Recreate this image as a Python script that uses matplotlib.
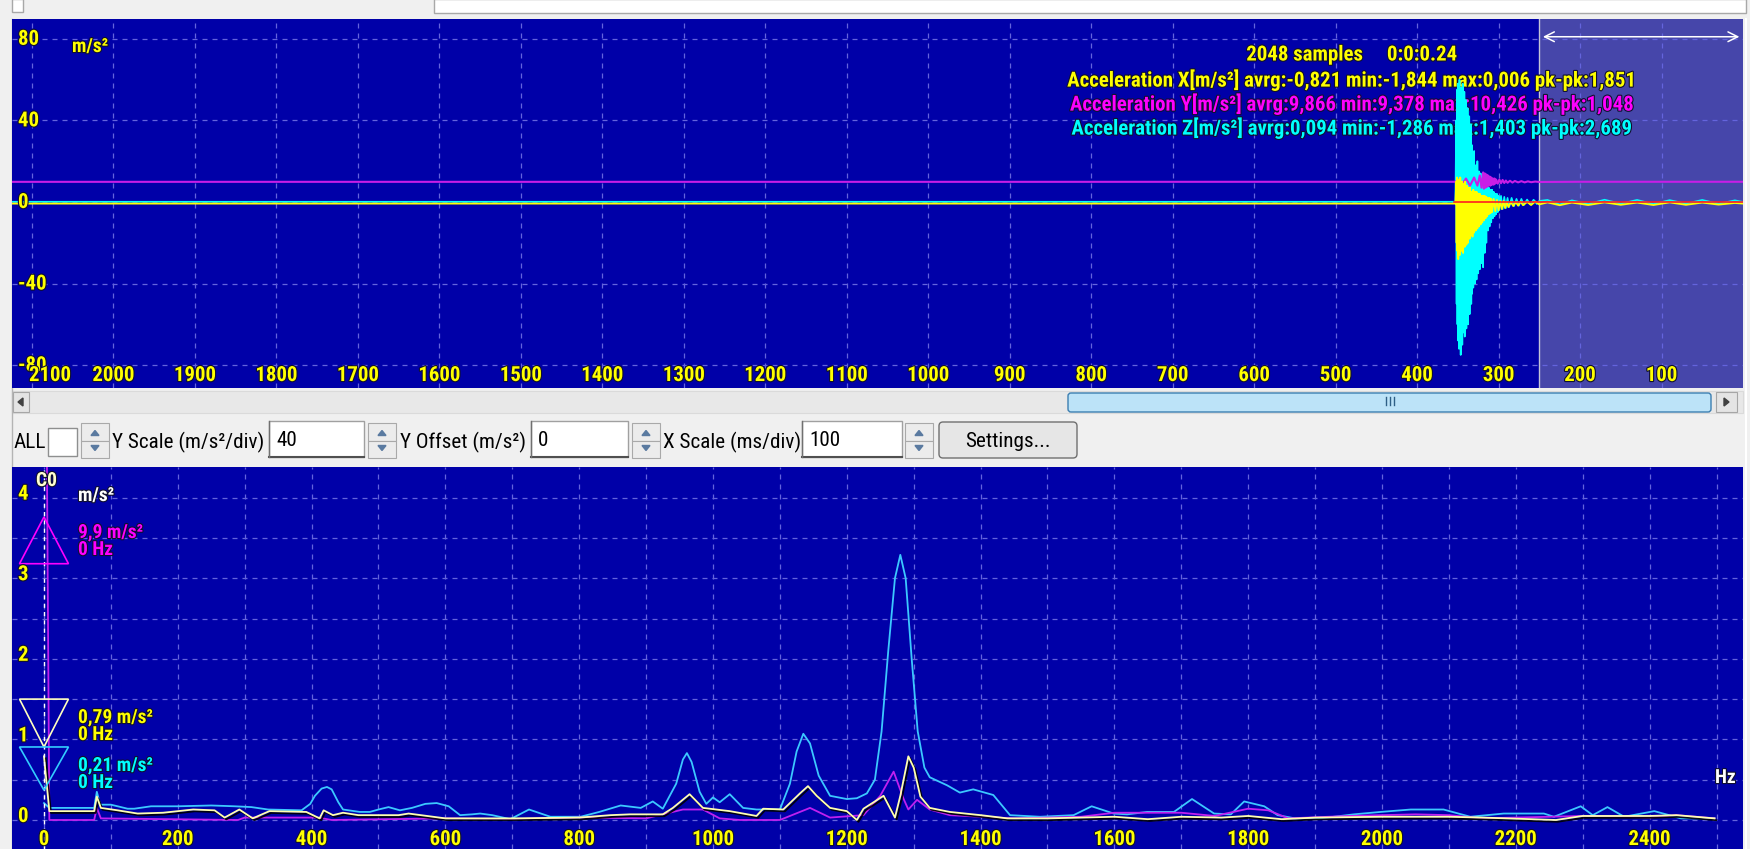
import matplotlib
matplotlib.use("Agg")
import matplotlib.pyplot as plt
import matplotlib.patheffects as pe
from matplotlib.patches import Rectangle, Polygon, FancyBboxPatch
from matplotlib.transforms import blended_transform_factory, offset_copy
from matplotlib import font_manager as fm

# ---------------- data ----------------
# time domain (ms, reversed axis) -- acceleration X (yellow)
time_x = [2124, 1500, 900, 353, 352, 351.5, 351, 350.5, 350, 349.5, 349, 348.5, 348, 347.5, 347,
          346.5, 346, 345.5, 345, 344.5, 344, 343.5, 343, 342.5, 342, 341.5, 341, 340.5, 340,
          339.5, 339, 338.5, 338, 337.5, 337, 336.5, 336, 335.5, 335, 334, 333, 332, 331, 330,
          329, 328, 327, 326, 325, 324, 323, 322, 321, 320, 319, 318, 317, 316, 315, 314, 313,
          312, 311, 310, 309, 308, 306, 304, 302, 300, 298, 296, 294, 292, 290, 288, 285, 282,
          279, 276, 273, 270, 265, 260, 255, 250, 240, 225, 210, 190, 170, 150, 130, 110, 90,
          70, 50, 30, 10, 0]
acc_x = [-0.8, -0.8, -0.8, -0.8, 10, -20, 12, -24, 9, -28, 11, -22, 8, -26, 12,
         -20, 9, -24, 10, -22, 7, -25, 9, -20, 8, -22, 10, -18, 7,
         -21, 8, -19, 6, -20, 7, -17, 6, -18, 7, -16, 5, -17, 6, -15,
         5, -14, 5, -13, 4, -12, 4, -11, 3, -10, 3, -9, 3, -8, 2.5, -7, 2,
         -6, 2, -5.5, 1.5, -5, 1.5, -4.5, 1, -4, 0.5, -3.5, 0.5, -3, 0, -2.5, 0, -2,
         0, -1.8, 0.2, -1.6, 0, -1.5, 0.2, -1.2, -0.2, -1.6, -0.3, -1.5, -0.2, -1.4, -0.3, -1.5, -0.2,
         -1.4, -0.3, -1.3, -0.5, -0.8]

# acceleration Y (magenta)
time_y = [2124, 1500, 900, 353, 350, 345, 340, 335, 330, 326, 323, 321, 319, 318, 317, 316, 315,
          314, 313, 312, 311, 310, 309, 308, 307, 306, 305, 304, 303, 301, 299, 297, 295, 293,
          291, 289, 286, 283, 280, 276, 272, 268, 264, 260, 255, 250, 200, 100, 0]
acc_y = [9.87, 9.87, 9.87, 9.9, 11, 8.5, 11.5, 8, 12, 8, 13, 7, 14.5, 6.5, 14, 7, 13.5,
         7.5, 13, 8, 12.5, 8, 12, 8.5, 11.5, 8.5, 11.5, 9, 11, 9, 11, 9.2, 10.8, 9.3,
         10.5, 9.4, 10.4, 9.5, 10.3, 9.6, 10.2, 9.6, 10.1, 9.7, 10.0, 9.8, 9.9, 9.9, 9.9]

# acceleration Z (cyan)
time_z = [2124, 1500, 900, 353, 352, 351.5, 351, 350.5, 350, 349.5, 349, 348.5, 348, 347.5, 347,
          346.5, 346, 345.5, 345, 344.5, 344, 343.5, 343, 342.5, 342, 341.5, 341, 340.5, 340,
          339.5, 339, 338.5, 338, 337.5, 337, 336.5, 336, 335.5, 335, 334.5, 334, 333.5, 333,
          332.5, 332, 331, 330, 329, 328, 327, 326, 325, 324, 323, 322, 321, 320, 319, 318, 317,
          316, 315, 314, 313, 312, 311, 310, 309, 308, 307, 306, 305, 304, 303, 302, 301, 300,
          299, 297, 295, 293, 291, 289, 287, 284, 281, 278, 275, 272, 269, 265, 261, 257, 253,
          250, 240, 225, 210, 190, 170, 150, 130, 110, 90, 70, 50, 30, 10, 0]
acc_z = [0.1, 0.1, 0.1, 0.1, 40, -50, 55, -60, 58, -68, 52, -72, 60, -66, 48,
         -75, 56, -62, 50, -70, 58, -64, 45, -58, 54, -66, 42, -55, 50,
         -62, 40, -58, 46, -60, 35, -52, 42, -55, 30, -48, 38, -50, 28,
         -45, 22, -42, 25, -40, 18, -38, 20, -35, 15, -33, 14, -30, 12, -32, 10, -25,
         9, -20, 8, -14, 7, -12, 6, -10, 6, -8, 5, -7, 4, -6, 4, -5, 3,
         -4, 3, -3.5, 2.5, -3, 2, -2.5, 2, -2, 1.5, -1.8, 1.5, -1.5, 1.2, -1.3, 1.1, -1.0,
         0.5, 1.0, -1.2, 0.8, -1.0, 1.1, -0.8, 1.0, -1.0, 0.9, -0.8, 1.0, -0.9, 0.8, 0.0]

zero_ref_t = [355, 0]
zero_ref_v = [0.0, 0.0]

# spectrum (Hz, m/s^2)
freq_z = [0, 8, 40, 75, 79, 84, 100, 125, 135, 160, 200, 250, 285, 310, 335, 385, 398, 405, 415,
          423, 430, 440, 447, 472, 487, 500, 515, 532, 550, 570, 587, 605, 622, 640, 652, 670,
          697, 725, 757, 802, 830, 862, 892, 910, 925, 945, 955, 961, 968, 980, 990, 1000, 1010,
          1025, 1045, 1065, 1100, 1115, 1125, 1135, 1145, 1158, 1175, 1200, 1215, 1230, 1242,
          1252, 1262, 1272, 1280, 1288, 1297, 1306, 1316, 1324, 1350, 1369, 1389, 1419, 1444,
          1489, 1539, 1566, 1599, 1619, 1649, 1689, 1716, 1749, 1774, 1794, 1824, 1844, 1870,
          1908, 1958, 1998, 2043, 2092, 2132, 2182, 2242, 2257, 2297, 2315, 2337, 2362, 2407,
          2447, 2497]
amp_z = [0.21, 0.15, 0.15, 0.15, 0.35, 0.19, 0.19, 0.14, 0.14, 0.17, 0.17, 0.18, 0.17, 0.16,
         0.13, 0.12, 0.2, 0.3, 0.39, 0.41, 0.38, 0.22, 0.13, 0.1, 0.1, 0.13, 0.16, 0.12, 0.15,
         0.2, 0.21, 0.17, 0.06, 0.07, 0.08, 0.06, 0.01, 0.13, 0.04, 0.04, 0.1, 0.18, 0.15, 0.23,
         0.14, 0.45, 0.75, 0.83, 0.72, 0.35, 0.2, 0.28, 0.22, 0.32, 0.15, 0.13, 0.13, 0.45,
         0.85, 1.07, 0.95, 0.55, 0.3, 0.26, 0.27, 0.33, 0.5, 1.1, 2.1, 3.0, 3.29, 3.0, 2.0, 1.1,
         0.65, 0.53, 0.43, 0.34, 0.38, 0.31, 0.06, 0.04, 0.06, 0.17, 0.08, 0.07, 0.1, 0.1, 0.26,
         0.08, 0.07, 0.23, 0.17, 0.06, 0.02, 0.02, 0.07, 0.1, 0.13, 0.13, 0.04, 0.08, 0.08, 0.04,
         0.17, 0.06, 0.16, 0.04, 0.11, 0.02, 0.02]

freq_x = [0, 8, 75, 79, 85, 110, 140, 178, 223, 255, 270, 292, 312, 337, 392, 412, 418, 432, 447,
          470, 530, 545, 600, 700, 800, 847, 876, 925, 940, 965, 985, 1025, 1065, 1075, 1105,
          1130, 1142, 1155, 1175, 1200, 1215, 1225, 1255, 1272, 1280, 1292, 1300, 1310, 1324,
          1354, 1400, 1440, 1500, 1600, 1650, 1700, 1760, 1800, 1850, 1900, 2000, 2100, 2150,
          2260, 2300, 2400, 2440, 2497]
amp_x = [0.79, 0.11, 0.11, 0.29, 0.15, 0.12, 0.08, 0.09, 0.13, 0.12, 0.03, 0.13, 0.02, 0.11,
         0.1, 0.02, 0.12, 0.06, 0.09, 0.06, 0.06, 0.08, 0.02, 0.02, 0.03, 0.06, 0.07, 0.07, 0.15,
         0.32, 0.15, 0.11, 0.05, 0.14, 0.13, 0.33, 0.42, 0.3, 0.15, 0.11, 0.0, 0.14, 0.3, 0.03,
         0.3, 0.79, 0.65, 0.29, 0.15, 0.1, 0.06, 0.02, 0.02, 0.04, 0.01, 0.04, 0.03, 0.05, 0.01,
         0.03, 0.04, 0.04, 0.03, 0.0, 0.05, 0.05, 0.06, 0.02]

freq_y = [0, 8, 75, 79, 85, 290, 300, 410, 430, 600, 700, 800, 900, 955, 985, 1010, 1040, 1100,
          1145, 1175, 1225, 1250, 1270, 1285, 1292, 1305, 1324, 1354, 1400, 1450, 1550, 1600,
          1700, 1750, 1800, 1830, 1860, 1950, 2050, 2100, 2150, 2300, 2400, 2440, 2497]
amp_y = [9.9, 0.0, 0.0, 0.15, 0.02, 0.0, 0.03, 0.03, 0.0, 0.02, 0.01, 0.03, 0.02, 0.13, 0.13,
         0.02, 0.0, 0.0, 0.15, 0.03, 0.06, 0.3, 0.6, 0.26, 0.13, 0.25, 0.13, 0.06, 0.04, 0.02,
         0.04, 0.09, 0.09, 0.05, 0.14, 0.12, 0.02, 0.05, 0.07, 0.06, 0.02, 0.05, 0.03, 0.06, 0.02]

top_xticks = [2100, 2000, 1900, 1800, 1700, 1600, 1500, 1400, 1300, 1200, 1100, 1000,
              900, 800, 700, 600, 500, 400, 300, 200, 100]
top_yticks = [80, 40, 0, -40, -80]
bot_xticks = [0, 200, 400, 600, 800, 1000, 1200, 1400, 1600, 1800, 2000, 2200, 2400]
bot_yticks = [0, 1, 2, 3, 4]

info_lines = ["2048 samples     0:0:0.24",
              "Acceleration X[m/s\u00b2] avrg:-0,821 min:-1,844 max:0,006 pk-pk:1,851",
              "Acceleration Y[m/s\u00b2] avrg:9,866 min:9,378 max:10,426 pk-pk:1,048",
              "Acceleration Z[m/s\u00b2] avrg:0,094 min:-1,286 max:1,403 pk-pk:2,689"]
cursor_labels = [("9,9 m/s\u00b2", "0 Hz"), ("0,79 m/s\u00b2", "0 Hz"), ("0,21 m/s\u00b2", "0 Hz")]
# cursor triangles: (apex, base) values
cursor_tri = [(3.76, 3.18), (0.906, 1.5), (0.37, 0.906)]

# ---------------- fonts ----------------
entries = fm.fontManager.ttflist
names = {f.name for f in entries}
FAM, STRETCH = "Liberation Sans", "normal"
for c in ["Liberation Sans Narrow", "Arial Narrow", "Roboto Condensed", "Open Sans Condensed",
          "Noto Sans Condensed", "DejaVu Sans Condensed"]:
    if c in names:
        FAM = c
        break
else:
    for fam in ["Noto Sans", "Open Sans", "Roboto", "DejaVu Sans"]:
        if any(f.name == fam and "condensed" in str(f.stretch) for f in entries):
            FAM, STRETCH = fam, "condensed"
            break
FONT = dict(family=[FAM, "DejaVu Sans"], fontstretch=STRETCH)

BLUE = "#0000A8"
SHADE = "#4646AA"
GRID = "#6464DC"
YEL = "#FFFF00"
MAG = "#FF00FF"
CYA = "#00FFFF"
shadow = [pe.withStroke(linewidth=1.6, foreground="#101030")]

W, H = 1750, 849
fig = plt.figure(figsize=(W / 100, H / 100), dpi=100, facecolor="#F0F0F0")
renderer = fig.canvas.get_renderer()


def fit(sample, target, weight, base=20.0):
    t = fig.text(0, 0, sample, fontsize=base, fontweight=weight, **FONT)
    w = t.get_window_extent(renderer).width
    t.remove()
    return base * target / w


FS_TICK = min(fit("2000", 42, "bold"), 17)
FS_INFO = min(fit(info_lines[1], 580, "bold"), 15)
FS_LAB = min(fit("9,9 m/s\u00b2", 69, "bold"), 14)
FS_UI = min(fit("Y Scale (m/s\u00b2/div)", 152, "normal"), 16)

ui = fig.add_axes([0, 0, 1, 1], zorder=0)
ui.set_xlim(0, W); ui.set_ylim(H, 0); ui.axis("off")


def rect(x0, y0, x1, y1, **kw):
    ui.add_patch(Rectangle((x0, y0), x1 - x0, y1 - y0, **kw))


def px_axes(x0, y0, x1, y1, z):
    return fig.add_axes([x0 / W, 1 - y1 / H, (x1 - x0) / W, (y1 - y0) / H], zorder=z)


# ----- window chrome -----
rect(434, -1, 1746, 13, facecolor="white", edgecolor="#A8A8A8", lw=1)
rect(12, -1, 23, 12, facecolor="white", edgecolor="#A8A8A8", lw=1)
ui.plot([11.5, 11.5], [19, H], color="#B4B4B4", lw=1)
ui.plot([1745.5, 1745.5], [19, H], color="#FFFFFF", lw=1.5)

# scrollbar
rect(12, 391, 1743, 413, facecolor="#E8E8E8", edgecolor="#DADADA", lw=0.8)
rect(13, 392, 29, 412, facecolor="#E4E4E4", edgecolor="#A6A6A6", lw=0.8)
ui.add_patch(Polygon([(23, 398), (23, 406), (18, 402)], closed=True, color="#404040"))
ui.add_patch(FancyBboxPatch((1068, 393), 643, 19, boxstyle="round,pad=0,rounding_size=3",
                            facecolor="#BCE3F8", edgecolor="#3C7FB1", lw=1))
for gx in (1386, 1390, 1394):
    ui.plot([gx, gx], [397, 405], color="#2E5F86", lw=1)
rect(1716, 392, 1737, 412, facecolor="#E4E4E4", edgecolor="#A6A6A6", lw=0.8)
ui.add_patch(Polygon([(1724, 398), (1724, 406), (1729, 402)], closed=True, color="#404040"))


def spin(x0, x1, y0=423, y1=458):
    ym = (y0 + y1) / 2
    for a, b in ((y0, ym), (ym, y1)):
        rect(x0, a, x1, b, facecolor="#ECECEC", edgecolor="#A9A9A9", lw=0.8)
    cx = (x0 + x1) / 2
    ui.add_patch(Polygon([(cx - 4, ym - 5), (cx + 4, ym - 5), (cx, ym - 10)], closed=True, color="#5A7AA0"))
    ui.add_patch(Polygon([(cx - 4, ym + 5), (cx + 4, ym + 5), (cx, ym + 10)], closed=True, color="#5A7AA0"))


ukw = dict(fontsize=FS_UI, va="center", ha="left", color="black", **FONT)


def tbox(x0, x1, txt, y0=421, y1=457):
    rect(x0, y0, x1, y1, facecolor="white", edgecolor="#A0A0A0", lw=1)
    ui.plot([x0, x1], [y1, y1], color="#505050", lw=1.5)
    ui.plot([x0, x0], [y0, y1], color="#707070", lw=1)
    ui.text(x0 + 7, (y0 + y1) / 2 + 1, txt, **ukw)


ui.text(13, 442, "ALL", **ukw)
rect(48, 428, 77, 456, facecolor="white", edgecolor="#8E8F8F", lw=1)
spin(81, 109)
ui.text(112, 442, "Y Scale (m/s\u00b2/div)", **ukw)
tbox(269, 364, "40")
spin(368, 396)
ui.text(400, 442, "Y Offset (m/s\u00b2)", **ukw)
tbox(531, 628, "0")
spin(632, 660)
ui.text(663, 442, "X Scale (ms/div)", **ukw)
tbox(802, 902, "100")
spin(905, 933)
ui.add_patch(FancyBboxPatch((939, 422), 138, 36, boxstyle="round,pad=0,rounding_size=4",
                            facecolor="#E6E6E6", edgecolor="#707070", lw=1))
ui.text(1008, 441, "Settings...", fontsize=FS_UI, va="center", ha="center", color="black", **FONT)

# ----- plot axes -----
ax1 = px_axes(12, 19, 1743, 388, 1)
ax2 = px_axes(12, 467, 1743, 849, 1)
ov = fig.add_axes([0, 0, 1, 1], zorder=5)
ov.set_xlim(0, W); ov.set_ylim(H, 0); ov.axis("off")

for ax in (ax1, ax2):
    ax.set_facecolor(BLUE)
    for s in ax.spines.values():
        s.set_visible(False)
    ax.set_xticks([]); ax.set_yticks([])

ax1.set_xlim(2124.5, 0); ax1.set_ylim(-91.2, 89.7)
ax2.set_xlim(-47.8, 2539.6); ax2.set_ylim(-0.36, 4.38)

gkw = dict(color=GRID, lw=0.9, ls=(0, (4, 4)), zorder=0.5)
ax1.axvspan(0, 250, color=SHADE, zorder=0.3, lw=0)
for t in top_xticks:
    ax1.axvline(t, **gkw)
for v in top_yticks:
    ax1.axhline(v, **gkw)
ax1.axvline(250, color="#C4C4D8", lw=1, zorder=0.6)
ax1.annotate("", xy=(1, 81), xytext=(249, 81),
             arrowprops=dict(arrowstyle="<->,head_length=0.7,head_width=0.35", color="white", lw=1.1),
             zorder=5)

for f in range(0, 2600, 100):
    ax2.axvline(f, **gkw)
for k in range(0, 9):
    ax2.axhline(k * 0.5, **gkw)

# info text (beneath the traces)
for txt, col, y in zip(info_lines, [YEL, YEL, MAG, CYA], [55, 80, 104, 128]):
    ax1.text(1352, y, txt, transform=ov.transData, fontweight="bold", fontsize=FS_INFO,
             color=col, ha="center", va="center", zorder=1, path_effects=shadow, **FONT)

# time-domain traces
ax1.plot(time_z, acc_z, color=CYA, lw=1.2, zorder=3)
ax1.plot(time_y, acc_y, color="#C81EE6", lw=1.5, zorder=3.5)
ax1.plot(time_x, acc_x, color=YEL, lw=1.3, zorder=4)
ax1.plot(zero_ref_t, zero_ref_v, color="#FF2020", lw=1.2, zorder=4.5)

# spectrum traces
ax2.plot(freq_z, amp_z, color="#3CC8FF", lw=1.3, zorder=3)
ax2.plot(freq_y, amp_y, color="#C020F0", lw=1.3, zorder=3.2)
ax2.plot(freq_x, amp_x, color="#FFFFB0", lw=1.3, zorder=3.4,
         path_effects=[pe.SimpleLineShadow(offset=(1.2, -1.3), shadow_color="black", alpha=0.9), pe.Normal()])
ax2.axvline(0, color="white", lw=1, ls=(0, (3, 3)), zorder=3.6)

for (apex, base), col in zip(cursor_tri, [MAG, "#FFFFC0", "#33CCFF"]):
    ax2.add_patch(Polygon([(-36.6, base), (36.6, base), (0, apex)], closed=True, fill=False,
                          edgecolor=col, lw=1.2, zorder=4))

# ----- tick labels -----
tkw = dict(fontweight="bold", fontsize=FS_TICK, color=YEL, path_effects=shadow, zorder=6, **FONT)
bt1 = blended_transform_factory(ax1.transAxes, ax1.transData)
for v in top_yticks:
    ax1.text(6 / 1731, v, str(v), transform=offset_copy(bt1, fig=fig, y=-6, units="dots"),
             ha="left", va="baseline", **tkw)
bx1 = blended_transform_factory(ax1.transData, ax1.transAxes)
for t in top_xticks:
    if t == 2100:
        ax1.text(t, 7 / 369, str(t), transform=offset_copy(bx1, fig=fig, x=-3, units="dots"),
                 ha="left", va="baseline", **tkw)
    else:
        ax1.text(t, 7 / 369, str(t), transform=bx1, ha="center", va="baseline", **tkw)

bt2 = blended_transform_factory(ax2.transAxes, ax2.transData)
for v in bot_yticks:
    ax2.text(6 / 1731, v, str(v), transform=offset_copy(bt2, fig=fig, y=-2, units="dots"),
             ha="left", va="baseline", **tkw)
bx2 = blended_transform_factory(ax2.transData, ax2.transAxes)
for f in bot_xticks:
    ax2.text(f, 4 / 382, str(f), transform=bx2, ha="center", va="baseline", **tkw)

# units / labels (overlay, pixel coords)
lkw = dict(fontweight="bold", fontsize=FS_LAB, path_effects=shadow, va="center", ha="left", **FONT)
ov.text(72, 47, "m/s\u00b2", color=YEL, **lkw)
ov.text(78, 496, "m/s\u00b2", color="white", **lkw)
ov.text(36, 481, "C0", color="#FFFFD0", **lkw)
ov.text(1715, 778, "Hz", color="white", **lkw)
for (l1, l2), col, y in zip(cursor_labels, [MAG, YEL, CYA], [533, 718, 766]):
    ov.text(78, y, l1, color=col, **lkw)
    ov.text(78, y + 17, l2, color=col, **lkw)

fig.savefig("out.png", dpi=100, facecolor=fig.get_facecolor())
